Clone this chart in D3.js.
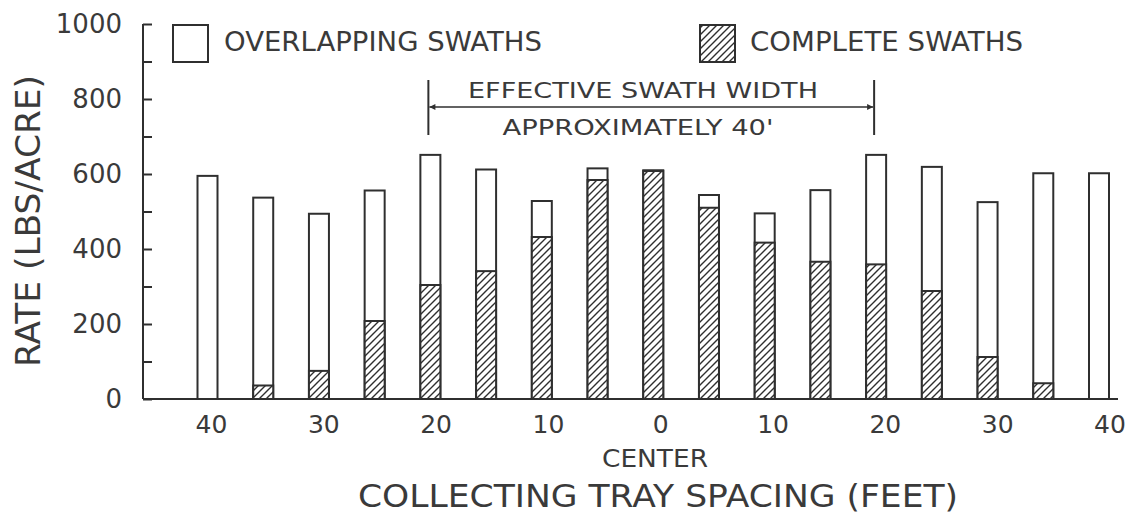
<!DOCTYPE html>
<html>
<head>
<meta charset="utf-8">
<script src="https://cdn.jsdelivr.net/npm/d3@7"></script>
<style>
  html, body { margin: 0; padding: 0; background: #ffffff; }
  svg { display: block; }
  text { font-family: "DejaVu Sans", "Liberation Sans", sans-serif; fill: #3a3a3a; }
</style>
</head>
<body>
<svg id="chart" width="1130" height="514"></svg>
<script>
// ---- data ----
const positions = [-40, -35, -30, -25, -20, -15, -10, -5, 0, 5, 10, 15, 20, 25, 30, 35, 40];
const overlapping = [595, 537, 494, 556, 651, 612, 528, 615, 610, 544, 495, 557, 651, 619, 525, 602, 602];
const complete = [0, 36, 75, 208, 304, 341, 432, 584, 608, 510, 417, 366, 359, 288, 112, 42, 0];
const xTickValues = [-40, -30, -20, -10, 0, 10, 20, 30, 40];
const xTickLabels = ["40", "30", "20", "10", "0", "10", "20", "30", "40"];
const yTickLabels = ["0", "200", "400", "600", "800", "1000"];
const legendLabels = ["OVERLAPPING SWATHS", "COMPLETE SWATHS"];
const annotationLines = ["EFFECTIVE SWATH WIDTH", "APPROXIMATELY 40'"];
const annotationRange = [-20, 20];

const ink = "#2f2f2f";
const svg = d3.select("#chart");

const y = d3.scaleLinear().domain([0, 1000]).range([399, 24]);
const xBar = d3.scaleLinear().domain([-40, 40]).range([207.5, 1099]);
const xLab = d3.scaleLinear().domain([-40, 40]).range([211.5, 1110]);
const axisX = 143;
const barW = 20;

// hatch pattern
const defs = svg.append("defs");
const pat = defs.append("pattern")
  .attr("id", "hatch").attr("patternUnits", "userSpaceOnUse")
  .attr("width", 7).attr("height", 7);
pat.append("rect").attr("width", 7).attr("height", 7).attr("fill", "#fff");
pat.append("path")
  .attr("d", "M-1,1 l2,-2 M0,7 l7,-7 M6,8 l2,-2")
  .attr("stroke", ink).attr("stroke-width", 1.4);

// y axis
const yAxis = d3.axisRight(y)
  .tickValues(d3.range(0, 1001, 100))
  .tickSize(9)
  .tickFormat("");
const gy = svg.append("g").attr("transform", `translate(${axisX},0)`).call(yAxis);
gy.select(".domain").remove();
gy.selectAll(".tick line").attr("stroke", ink).attr("stroke-width", 2);
svg.append("line")
  .attr("x1", axisX).attr("x2", axisX)
  .attr("y1", y(1000)).attr("y2", y(0))
  .attr("stroke", ink).attr("stroke-width", 2);

// y tick labels
svg.append("g").selectAll("text")
  .data(yTickLabels)
  .join("text")
  .attr("x", 122)
  .attr("y", d => y(+d) + 9)
  .attr("text-anchor", "end")
  .attr("font-size", 26)
  .text(d => d);

// x baseline
svg.append("line")
  .attr("x1", axisX).attr("x2", 1118)
  .attr("y1", y(0)).attr("y2", y(0))
  .attr("stroke", ink).attr("stroke-width", 2);

// bars: overlapping (outline)
svg.append("g").selectAll("rect")
  .data(positions)
  .join("rect")
  .attr("x", (d) => xBar(d) - barW / 2)
  .attr("width", barW)
  .attr("y", (d, i) => y(overlapping[i]))
  .attr("height", (d, i) => y(0) - y(overlapping[i]))
  .attr("fill", "#fff")
  .attr("stroke", ink)
  .attr("stroke-width", 2);

// bars: complete (hatched)
svg.append("g").selectAll("rect")
  .data(positions.filter((d, i) => complete[i] > 0))
  .join("rect")
  .attr("x", d => xBar(d) - barW / 2)
  .attr("width", barW)
  .attr("y", d => y(complete[positions.indexOf(d)]))
  .attr("height", d => y(0) - y(complete[positions.indexOf(d)]))
  .attr("fill", "url(#hatch)")
  .attr("stroke", ink)
  .attr("stroke-width", 2);

// x tick labels
svg.append("g").selectAll("text")
  .data(xTickValues)
  .join("text")
  .attr("x", d => xLab(d))
  .attr("y", 433)
  .attr("text-anchor", "middle")
  .attr("font-size", 25)
  .text((d, i) => xTickLabels[i]);

svg.append("text")
  .attr("x", 655).attr("y", 467)
  .attr("text-anchor", "middle")
  .attr("font-size", 25)
  .attr("textLength", 106).attr("lengthAdjust", "spacingAndGlyphs")
  .text("CENTER");

svg.append("text")
  .attr("x", 658).attr("y", 507)
  .attr("text-anchor", "middle")
  .attr("font-size", 32)
  .attr("textLength", 600).attr("lengthAdjust", "spacingAndGlyphs")
  .text("COLLECTING TRAY SPACING (FEET)");

// y title
svg.append("text")
  .attr("transform", "translate(40,221) rotate(-90)")
  .attr("text-anchor", "middle")
  .attr("font-size", 34)
  .attr("textLength", 292).attr("lengthAdjust", "spacingAndGlyphs")
  .text("RATE (LBS/ACRE)");

// legend
const legendBoxes = [{x: 173, fill: "#fff"}, {x: 700, fill: "url(#hatch)"}];
const legendTextX = [224, 750];
const legendTextLen = [318, 273];
legendLabels.forEach((lab, i) => {
  svg.append("rect")
    .attr("x", legendBoxes[i].x).attr("y", 25)
    .attr("width", 35).attr("height", 37)
    .attr("fill", legendBoxes[i].fill)
    .attr("stroke", ink).attr("stroke-width", 2);
  svg.append("text")
    .attr("x", legendTextX[i]).attr("y", 51)
    .attr("font-size", 26)
    .attr("textLength", legendTextLen[i]).attr("lengthAdjust", "spacingAndGlyphs")
    .text(lab);
});

// annotation
defs.append("marker")
  .attr("id", "arrow").attr("viewBox", "0 0 10 10")
  .attr("refX", 10).attr("refY", 5)
  .attr("markerWidth", 10).attr("markerHeight", 6)
  .attr("markerUnits", "userSpaceOnUse")
  .attr("orient", "auto-start-reverse")
  .append("path").attr("d", "M0,0 L10,5 L0,10 z").attr("fill", ink);

const ax1 = xBar(annotationRange[0]) - 2, ax2 = xBar(annotationRange[1]) - 2;
[ax1, ax2].forEach(xx => {
  svg.append("line")
    .attr("x1", xx).attr("x2", xx).attr("y1", 80).attr("y2", 135)
    .attr("stroke", ink).attr("stroke-width", 2);
});
svg.append("line")
  .attr("x1", ax1 + 1).attr("x2", ax2 - 1).attr("y1", 107).attr("y2", 107)
  .attr("stroke", ink).attr("stroke-width", 1.6)
  .attr("marker-start", "url(#arrow)").attr("marker-end", "url(#arrow)");

svg.append("text")
  .attr("x", 643).attr("y", 98)
  .attr("text-anchor", "middle")
  .attr("font-size", 22)
  .attr("textLength", 350).attr("lengthAdjust", "spacingAndGlyphs")
  .text(annotationLines[0]);
svg.append("text")
  .attr("x", 638).attr("y", 135)
  .attr("text-anchor", "middle")
  .attr("font-size", 22)
  .attr("textLength", 271).attr("lengthAdjust", "spacingAndGlyphs")
  .text(annotationLines[1]);
</script>
</body>
</html>
